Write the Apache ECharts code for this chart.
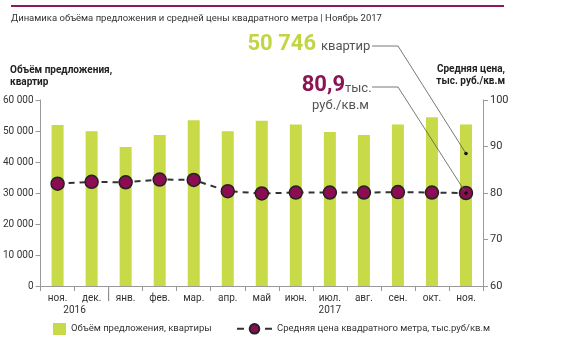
<!DOCTYPE html>
<html><head><meta charset="utf-8">
<script src="https://cdn.jsdelivr.net/npm/echarts@6/dist/echarts.min.js"></script>
<style>html,body{margin:0;padding:0;background:#fff}#c{width:565px;height:349px}</style>
</head><body><div id="c"></div>
<script>
var categories = ['ноя.','дек.','янв.','фев.','мар.','апр.','май','июн.','июл.','авг.','сен.','окт.','ноя.'];
var supplyValues = [51900, 49900, 44800, 48700, 53500, 49900, 53300, 52100, 49700, 48700, 52100, 54400, 52100];
var priceValues = [82.0, 82.4, 82.3, 82.9, 82.8, 80.4, 79.9, 80.1, 80.1, 80.1, 80.2, 80.1, 80.0];
var leftTicks = [0, 10000, 20000, 30000, 40000, 50000, 60000];
var rightTicks = [60, 70, 80, 90, 100];
var years = [{label: '2016', from: 0, to: 1}, {label: '2017', from: 8, to: 8}];
var yearSplitAfter = 1;

var FONT = 'Roboto';
var barColor = '#c8da48';
var dotColor = '#8b0c50';

var chart = echarts.init(document.getElementById('c'), null, {renderer: 'canvas'});
function fmt(v){ return String(v).replace(/\B(?=(\d{3})+(?!\d))/g, ' '); }

var option = {
  animation: false,
  textStyle: {fontFamily: FONT},
  grid: {left: 40, right: 82, top: 100, bottom: 63},
  xAxis: {
    type: 'category', data: categories,
    axisLine: {lineStyle: {color: '#999', width: 1}},
    axisTick: {show: true, length: 5, lineStyle: {color: '#999'}},
    axisLabel: {fontSize: 10, color: '#333', margin: 7, fontFamily: FONT}
  },
  yAxis: [{
    type: 'value', min: leftTicks[0], max: leftTicks[leftTicks.length-1], interval: 10000,
    axisLine: {show: true, lineStyle: {color: '#999'}},
    axisTick: {show: true, length: 5, lineStyle: {color: '#999'}},
    splitLine: {show: false},
    axisLabel: {fontSize: 10, color: '#333', margin: 7, formatter: fmt, fontFamily: FONT}
  }, {
    type: 'value', min: rightTicks[0], max: rightTicks[rightTicks.length-1], interval: 10, position: 'right',
    axisLine: {show: true, lineStyle: {color: '#999'}},
    axisTick: {show: true, length: 5, lineStyle: {color: '#999'}},
    splitLine: {show: false},
    axisLabel: {fontSize: 11, color: '#333', margin: 7, fontFamily: FONT}
  }],
  legend: [{
    left: 53, top: 323, padding: 0, itemWidth: 13, itemHeight: 12, itemGap: 10,
    data: [{name: 'Объём предложения, квартиры', icon: 'rect'}],
    textStyle: {fontSize: 9.5, color: '#333', fontFamily: FONT}
  }, {
    left: 236, top: 323, padding: 0, itemWidth: 35, itemHeight: 12,
    data: ['Средняя цена квадратного метра, тыс.руб/кв.м'],
    lineStyle: {type: [7, 21], width: 2, color: '#333'},
    textStyle: {fontSize: 9.5, color: '#333', fontFamily: FONT}
  }],
  series: [{
    name: 'Объём предложения, квартиры', type: 'bar', data: supplyValues,
    barWidth: 12, itemStyle: {color: barColor}, z: 2
  }, {
    name: 'Средняя цена квадратного метра, тыс.руб/кв.м', type: 'line', yAxisIndex: 1, data: priceValues,
    symbol: 'circle', symbolSize: 13,
    lineStyle: {color: '#333', width: 2, type: [6, 5]},
    itemStyle: {color: dotColor, borderColor: '#222', borderWidth: 1.5}, z: 3
  }]
};
chart.setOption(option);

function px(ci, v, axis){ return chart.convertToPixel({xAxisIndex: 0, yAxisIndex: axis}, [ci, v]); }
var last = categories.length - 1;
var p0 = px(0, 0, 0), p1 = px(1, 0, 0);
var band = p1[0] - p0[0];
var baseY = p0[1];
var g = [];
g.push({type: 'line', shape: {x1: 11, y1: 6, x2: 504, y2: 6}, style: {stroke: '#8b1a5a', lineWidth: 2}});
g.push({type: 'text', x: 11, y: 19, style: {text: 'Динамика объёма предложения и средней цены квадратного метра | Ноябрь 2017', fontSize: 9.5, fill: '#333', fontFamily: FONT, verticalAlign: 'middle'}});
g.push({type: 'text', x: 10, y: 64, style: {text: 'Объём предложения,\nквартир', fontSize: 10, fontWeight: 'bold', fill: '#222', fontFamily: FONT, lineHeight: 12}});
g.push({type: 'text', x: 505, y: 63, style: {text: 'Средняя цена,\nтыс. руб./кв.м', fontSize: 10, fontWeight: 'bold', fill: '#222', fontFamily: FONT, lineHeight: 12, align: 'right'}});
var sepX = p0[0] + band * (yearSplitAfter + 0.5);
g.push({type: 'line', shape: {x1: sepX, y1: baseY, x2: sepX, y2: baseY + 15}, style: {stroke: '#777', lineWidth: 1}});
years.forEach(function(y){
  var x = (px(y.from, 0, 0)[0] + px(y.to, 0, 0)[0]) / 2;
  g.push({type: 'text', x: x, y: baseY + 24, style: {text: y.label, fontSize: 10, fill: '#333', fontFamily: FONT, align: 'center', verticalAlign: 'middle'}});
});
var lastSupply = '50 746', lastPrice = '80,9';
g.push({type: 'text', x: 316, y: 55, style: {text: lastSupply, fontSize: 22, fontWeight: 'bold', fill: '#c3d545', fontFamily: FONT, align: 'right', verticalAlign: 'bottom'}});
g.push({type: 'text', x: 321, y: 47, style: {text: 'квартир', fontSize: 13, fill: '#555', fontFamily: FONT, verticalAlign: 'middle'}});
g.push({type: 'text', x: 345, y: 96, style: {text: lastPrice, fontSize: 22, fontWeight: 'bold', fill: '#8b1553', fontFamily: FONT, align: 'right', verticalAlign: 'bottom'}});
g.push({type: 'text', x: 345, y: 89, style: {text: 'тыс.', fontSize: 13, fill: '#555', fontFamily: FONT, verticalAlign: 'middle'}});
g.push({type: 'text', x: 369, y: 106, style: {text: 'руб./кв.м', fontSize: 13, fill: '#555', fontFamily: FONT, align: 'right', verticalAlign: 'middle'}});
var endA = px(last, 88.5, 1), endB = px(last, priceValues[last], 1);
g.push({type: 'polyline', shape: {points: [[372, 46], [398, 46], [endA[0], endA[1]]]}, style: {stroke: '#555', lineWidth: 0.8, fill: null}, z: 10});
g.push({type: 'circle', shape: {cx: endA[0], cy: endA[1], r: 1.8}, style: {fill: '#111'}, z: 10});
g.push({type: 'polyline', shape: {points: [[372, 87], [398, 87], [endB[0], endB[1]]]}, style: {stroke: '#555', lineWidth: 0.8, fill: null}, z: 10});
g.push({type: 'circle', shape: {cx: endB[0], cy: endB[1], r: 1.8}, style: {fill: '#111'}, z: 10});
chart.setOption({graphic: g});
</script>
</body></html>
